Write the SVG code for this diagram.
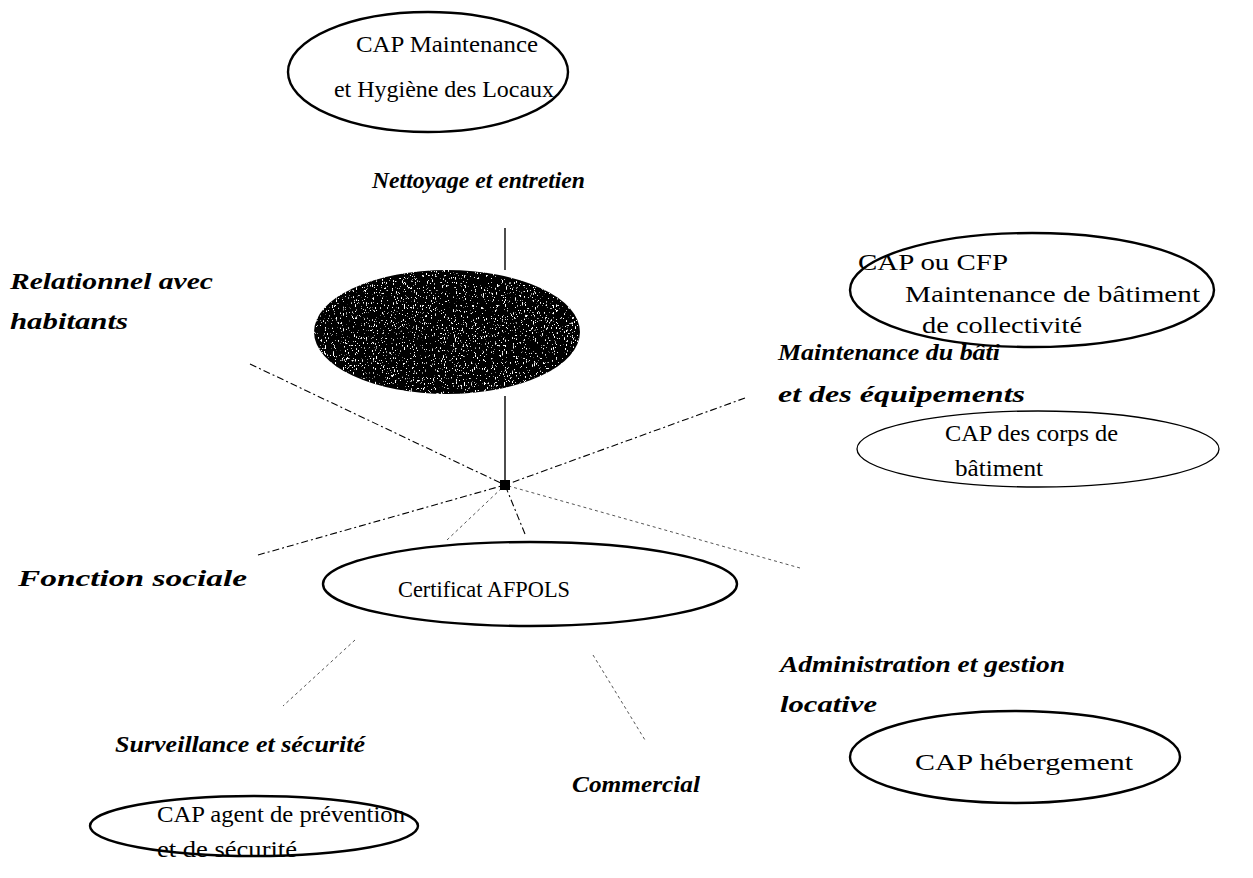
<svg xmlns="http://www.w3.org/2000/svg" width="1253" height="878" viewBox="0 0 1253 878">
  <style>
    .node { fill: #fff; stroke: #000; stroke-width: 2.4; }
    .thin { stroke-width: 1.3; }
    .t { font-family: "Liberation Serif", "Times New Roman", serif; font-size: 23px; fill: #000; }
    .lbl { font-family: "Liberation Serif", "Times New Roman", serif; font-size: 24px; font-weight: bold; font-style: italic; fill: #000; }
    .solid { stroke: #000; stroke-width: 1.4; fill: none; }
    .dash { stroke: #000; stroke-width: 1.1; stroke-dasharray: 7 3 2 3; fill: none; }
    .dot { stroke: #555; stroke-width: 1; stroke-dasharray: 3 3; fill: none; }
  </style>
  <defs>
    <!-- speckled print texture for the central dark ellipse -->
    <filter id="grain" x="0" y="0" width="100%" height="100%">
      <feTurbulence type="fractalNoise" baseFrequency="0.9 0.4" numOctaves="2" seed="7" result="n"/>
      <feColorMatrix in="n" type="matrix" values="0 0 0 0 1  0 0 0 0 1  0 0 0 0 1  14 0 0 0 -9.0" result="specks"/>
      <feComposite in="specks" in2="SourceGraphic" operator="in" result="s"/>
      <feMerge><feMergeNode in="SourceGraphic"/><feMergeNode in="s"/></feMerge>
    </filter>
  </defs>
  <rect width="1253" height="878" fill="#fff"/>

  <g id="connectors">
    <line class="solid" x1="505" y1="228" x2="505" y2="270"/>
    <line class="solid" x1="505" y1="396" x2="505" y2="485"/>
    <line class="dash" x1="250" y1="364" x2="505" y2="485"/>
    <line class="dash" x1="745" y1="398" x2="505" y2="485"/>
    <line class="dash" x1="258" y1="555" x2="505" y2="485"/>
    <line class="dot" x1="800" y1="568" x2="505" y2="485"/>
    <line class="dot" x1="447" y1="540" x2="505" y2="485"/>
    <line class="dash" x1="525" y1="534" x2="505" y2="485"/>
    <line class="dot" x1="355" y1="640" x2="283" y2="706"/>
    <line class="dot" x1="593" y1="655" x2="645" y2="740"/>
    <rect x="500" y="480" width="10" height="10" fill="#000"/>
  </g>

  <g id="cap-mhl">
    <ellipse class="node" cx="428" cy="72" rx="140" ry="60"/>
    <text class="t" x="356" y="52" textLength="182" lengthAdjust="spacingAndGlyphs">CAP Maintenance</text>
    <text class="t" x="334" y="97" textLength="220" lengthAdjust="spacingAndGlyphs">et Hygiène des Locaux</text>
  </g>

  <g id="centre">
    <ellipse cx="447" cy="332" rx="133" ry="62" fill="#000" filter="url(#grain)"/>
  </g>

  <g id="cap-cfp">
    <ellipse class="node" cx="1032" cy="290" rx="182" ry="57"/>
    <text class="t" x="858" y="270" textLength="150" lengthAdjust="spacingAndGlyphs">CAP ou CFP</text>
    <text class="t" x="905" y="302" textLength="295" lengthAdjust="spacingAndGlyphs">Maintenance de bâtiment</text>
    <text class="t" x="922" y="333" textLength="160" lengthAdjust="spacingAndGlyphs">de collectivité</text>
  </g>

  <g id="cap-corps">
    <ellipse class="node thin" cx="1038" cy="449" rx="181" ry="38"/>
    <text class="t" x="945" y="441" textLength="173" lengthAdjust="spacingAndGlyphs">CAP des corps de</text>
    <text class="t" x="955" y="476" textLength="88" lengthAdjust="spacingAndGlyphs">bâtiment</text>
  </g>

  <g id="afpols">
    <ellipse class="node" cx="530" cy="584" rx="207" ry="42"/>
    <text class="t" x="398" y="597" textLength="172" lengthAdjust="spacingAndGlyphs">Certificat AFPOLS</text>
  </g>

  <g id="cap-heb">
    <ellipse class="node" cx="1015" cy="757" rx="165" ry="46"/>
    <text class="t" x="915" y="770" textLength="218" lengthAdjust="spacingAndGlyphs">CAP hébergement</text>
  </g>

  <g id="cap-aps">
    <ellipse class="node" cx="254" cy="826" rx="164" ry="30"/>
    <text class="t" x="157" y="822" textLength="248" lengthAdjust="spacingAndGlyphs">CAP agent de prévention</text>
    <text class="t" x="157" y="857" textLength="140" lengthAdjust="spacingAndGlyphs">et de sécurité</text>
  </g>

  <g id="labels">
    <text class="lbl" x="372" y="188" textLength="213" lengthAdjust="spacingAndGlyphs">Nettoyage et entretien</text>
    <text class="lbl" x="10" y="289" textLength="203" lengthAdjust="spacingAndGlyphs">Relationnel avec</text>
    <text class="lbl" x="10" y="329" textLength="118" lengthAdjust="spacingAndGlyphs">habitants</text>
    <text class="lbl" x="778" y="360" textLength="222" lengthAdjust="spacingAndGlyphs">Maintenance du bâti</text>
    <text class="lbl" x="778" y="402" textLength="247" lengthAdjust="spacingAndGlyphs">et des équipements</text>
    <text class="lbl" x="18" y="586" textLength="229" lengthAdjust="spacingAndGlyphs">Fonction sociale</text>
    <text class="lbl" x="780" y="672" textLength="285" lengthAdjust="spacingAndGlyphs">Administration et gestion</text>
    <text class="lbl" x="780" y="712" textLength="97" lengthAdjust="spacingAndGlyphs">locative</text>
    <text class="lbl" x="115" y="752" textLength="250" lengthAdjust="spacingAndGlyphs">Surveillance et sécurité</text>
    <text class="lbl" x="572" y="792" textLength="128" lengthAdjust="spacingAndGlyphs">Commercial</text>
  </g>
</svg>
